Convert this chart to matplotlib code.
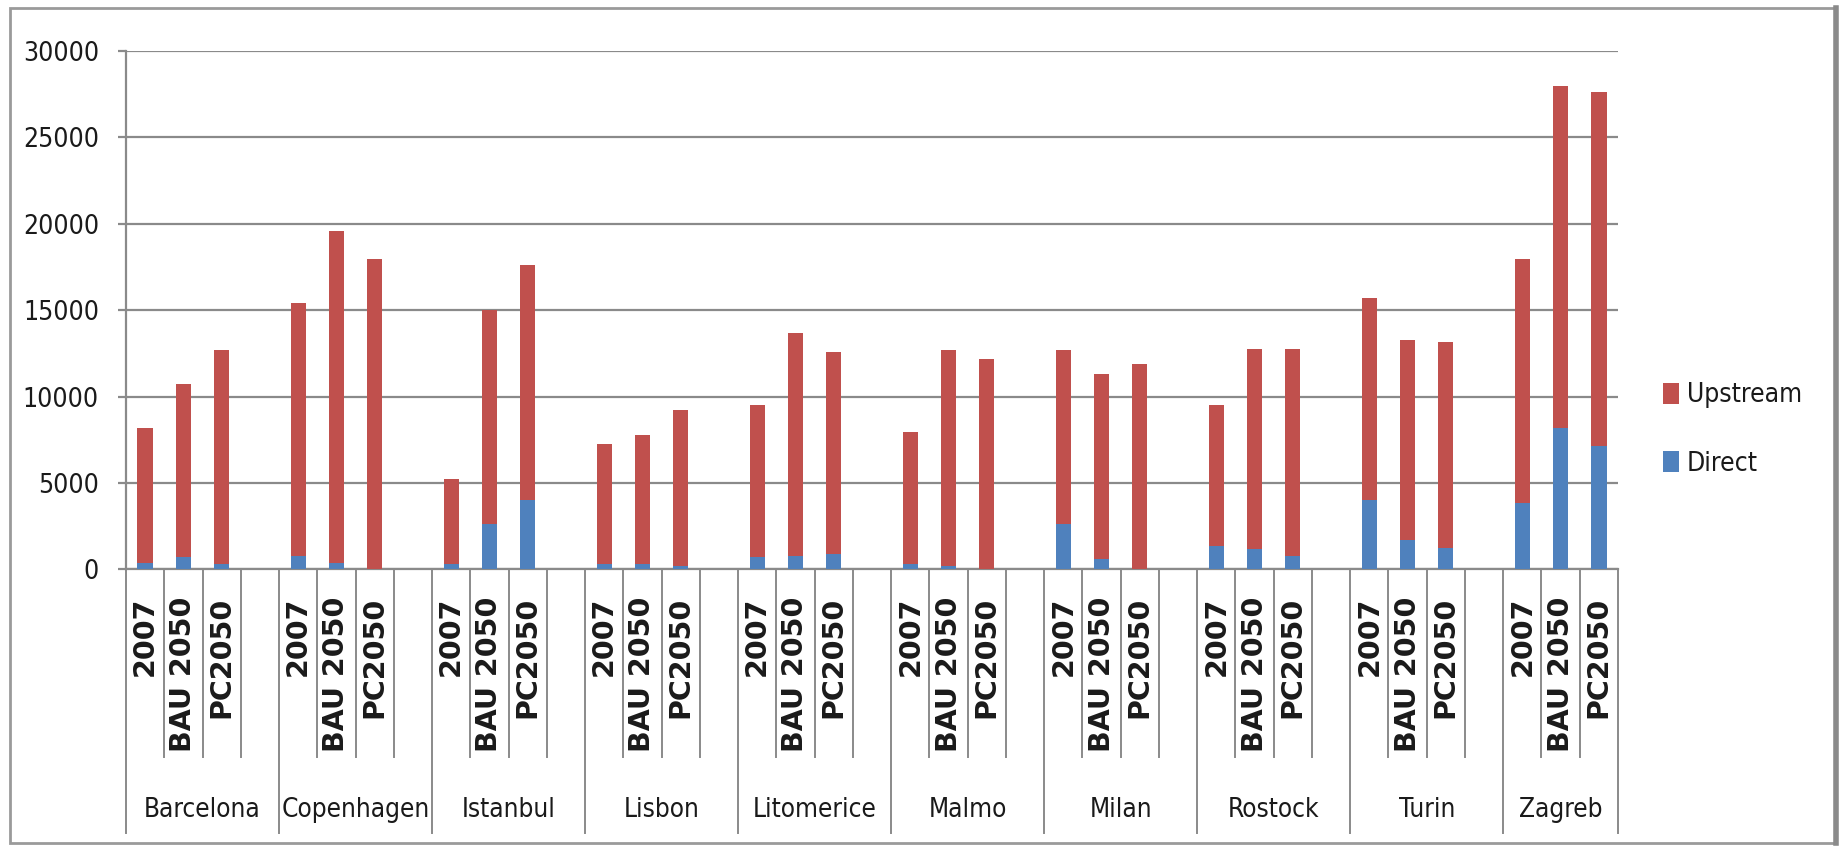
import numpy as np
import matplotlib
matplotlib.use("Agg")
import matplotlib.pyplot as plt
from matplotlib.patches import Rectangle
from matplotlib import font_manager

# Emissions per city and scenario (stacked: direct + upstream)
cities = ["Barcelona", "Copenhagen", "Istanbul", "Lisbon", "Litomerice",
          "Malmo", "Milan", "Rostock", "Turin", "Zagreb"]
scenarios = ["2007", "BAU 2050", "PC2050"]

direct = [
    [350, 700, 300],
    [750, 350, 0],
    [300, 2600, 4000],
    [300, 300, 200],
    [700, 750, 900],
    [300, 200, 0],
    [2600, 600, 0],
    [1350, 1200, 750],
    [4000, 1700, 1250],
    [3850, 8150, 7150],
]
upstream = [
    [7850, 10000, 12400],
    [14650, 19250, 17950],
    [4900, 12400, 13600],
    [6950, 7500, 9000],
    [8800, 12950, 11700],
    [7650, 12500, 12200],
    [10100, 10700, 11900],
    [8150, 11550, 12000],
    [11700, 11600, 11900],
    [14100, 19800, 20450],
]

RED = "#C0504D"
BLUE = "#4F81BD"
GRID = "#8A8A8A"
INK = "#1a1a1a"

# condensed face for the narrow Excel-like labels, if one is installed
condensed = [f for f in font_manager.fontManager.ttflist
             if f.stretch in ("condensed", "semi-condensed", 600, 700)
             and f.weight in ("normal", "regular", 400) and f.style == "normal"]
if condensed:
    narrow = dict(family=condensed[0].name, stretch=condensed[0].stretch)
else:
    narrow = dict(family="Liberation Sans")


def narrow_font(size):
    return font_manager.FontProperties(size=size, **narrow)


W, H = 1841, 851
fig = plt.figure(figsize=(W / 100, H / 100), dpi=100)
ax_l, ax_r, ax_t, ax_b = 126, 1618, 51, 569.3
ax = fig.add_axes([ax_l / W, 1 - ax_b / H, (ax_r - ax_l) / W, (ax_b - ax_t) / H])

# each city takes 4 slots (3 bars + a blank), last city has no trailing blank
n_slots = len(cities) * 4 - 1
pos = []
d_vals = []
u_vals = []
for c in range(len(cities)):
    for s in range(len(scenarios)):
        pos.append(c * 4 + s)
        d_vals.append(direct[c][s])
        u_vals.append(upstream[c][s])
pos = np.array(pos)
d_vals = np.array(d_vals)
u_vals = np.array(u_vals)

bw = 0.4
ax.bar(pos, d_vals, bw, color=BLUE, label="Direct", zorder=3)
ax.bar(pos, u_vals, bw, bottom=d_vals, color=RED, label="Upstream", zorder=3)

ax.set_xlim(-0.5, n_slots - 0.5)
ax.set_ylim(0, 30000)
ax.set_yticks(np.arange(0, 30001, 5000))
ax.yaxis.grid(True, color=GRID, linewidth=1.6, zorder=0)
ax.set_axisbelow(True)
for side in ["top", "right"]:
    ax.spines[side].set_visible(False)
for side in ["left", "bottom"]:
    ax.spines[side].set_color(GRID)
    ax.spines[side].set_linewidth(1.6)
ax.tick_params(axis="y", length=6, width=1.6, color=GRID, pad=13.5)
ax.set_xticks([])
for t in ax.get_yticklabels():
    t.set_fontproperties(narrow_font(19))
    t.set_color(INK)

# two-level category axis drawn below the plot
tr = ax.get_xaxis_transform()
y_short = -(757 - ax_b) / (ax_b - ax_t)
y_long = -(833 - ax_b) / (ax_b - ax_t)
y_sub = -(597 - ax_b) / (ax_b - ax_t)
y_city = -(810 - ax_b) / (ax_b - ax_t)

for k in range(n_slots + 1):
    x = k - 0.5
    long_line = (k % 4 == 0) or k == n_slots
    ax.plot([x, x], [0, y_long if long_line else y_short], transform=tr,
            color=GRID, linewidth=1.4, clip_on=False)

for c, city in enumerate(cities):
    for s, lab in enumerate(scenarios):
        ax.text(c * 4 + s, y_sub, lab, transform=tr, rotation=90,
                ha="center", va="top", fontsize=20.5, fontweight="bold",
                family="DejaVu Sans", color=INK)
    start = c * 4 - 0.5
    end = min(c * 4 + 3.5, n_slots - 0.5)
    ax.text((start + end) / 2, y_city, city, transform=tr, ha="center",
            va="center", color=INK, fontproperties=narrow_font(18.8))

# legend with Upstream on top
handles, labels = ax.get_legend_handles_labels()
leg = fig.legend(handles[::-1], labels[::-1], loc="center left",
                 bbox_to_anchor=(1663 / W, 1 - 429.5 / H), frameon=False,
                 prop=narrow_font(19), handlelength=0.6, handleheight=0.85,
                 handletextpad=0.3, labelspacing=1.6, borderpad=0,
                 borderaxespad=0)
for t in leg.get_texts():
    t.set_color(INK)

# chart area border
fig.patches.append(Rectangle((10 / W, 1 - 843 / H), (1835 - 10) / W, (843 - 8) / H,
                             transform=fig.transFigure, fill=False,
                             edgecolor="#9a9a9a", linewidth=2))
fig.lines.append(plt.Line2D([1836 / W, 1836 / W], [1 - 843 / H, 1 - 8 / H],
                            transform=fig.transFigure, color="#8a8a8a",
                            linewidth=4))

fig.savefig("out.png", dpi=100)
